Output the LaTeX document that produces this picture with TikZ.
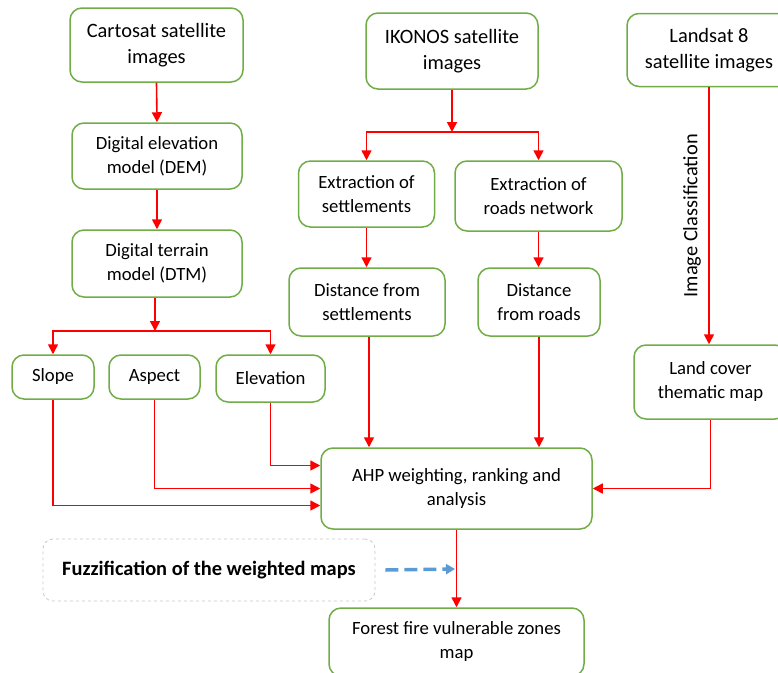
\documentclass[tikz,border=0pt]{standalone}
\usepackage{fontspec}
\setmainfont{Carlito}
\usetikzlibrary{arrows.meta,calc}
\definecolor{boxgreen}{HTML}{70AD47}
\definecolor{arrred}{HTML}{FF0000}
\definecolor{dashblue}{HTML}{5B9BD5}
\definecolor{fuzzgray}{HTML}{C8C8C8}
\begin{document}
\begin{tikzpicture}[x=1pt,y=-1pt,
  box/.style={draw=boxgreen,line width=1.5pt,rounded corners=12pt,align=center,
    inner sep=0pt,font=\fontsize{18.7}{24}\selectfont,fill=white},
  bigtext/.style={font=\fontsize{20.4}{25.5}\selectfont},
  arr/.style={draw=arrred,line width=1.6pt,-{Triangle[length=10pt,width=10pt]}},
  line/.style={draw=arrred,line width=1.6pt}]
\useasboundingbox (0,0) rectangle (778,672);
\clip (0,0) rectangle (778,672);
% nodes
\node[box,bigtext,minimum width=173pt,minimum height=74pt] (cart) at (156.5,45) {Cartosat satellite\\images};
\node[box,minimum width=170pt,minimum height=66pt] (dem) at (157,156) {Digital elevation\\model (DEM)};
\node[box,minimum width=170pt,minimum height=67pt] (dtm) at (157,263.5) {Digital terrain\\model (DTM)};
\node[box,minimum width=82pt,minimum height=44pt] (slope) at (53,377) {Slope};
\node[box,minimum width=91pt,minimum height=44pt] (aspect) at (154.5,377) {Aspect};
\node[box,minimum width=109pt,minimum height=47pt] (elev) at (270.5,378.5) {Elevation};
\node[box,bigtext,minimum width=172pt,minimum height=76pt] (ikonos) at (452,51) {IKONOS satellite\\images};
\node[box,minimum width=136pt,minimum height=66pt] (exset) at (366.5,194) {Extraction of\\settlements};
\node[box,minimum width=167pt,minimum height=70pt] (exroad) at (538.5,196) {Extraction of\\roads network};
\node[box,minimum width=156pt,minimum height=68pt] (dset) at (367,302) {Distance from\\settlements};
\node[box,minimum width=122pt,minimum height=68pt] (droad) at (539,302) {Distance\\from roads};
\node[box,bigtext,minimum width=164pt,minimum height=73pt] (landsat) at (709,50) {Landsat 8\\satellite images};
\node[box,minimum width=153pt,minimum height=74pt] (landcover) at (710.5,382) {Land cover\\thematic map};
\node[box,minimum width=271pt,minimum height=81pt] (ahp) at (456.5,488.5) {AHP weighting, ranking and\\analysis};
\node[draw=fuzzgray,dashed,line width=0.8pt,rounded corners=10pt,minimum width=332pt,minimum height=62pt,
  font=\fontsize{20.4}{25.5}\selectfont\bfseries] (fuzzy) at (209,570) {Fuzzification of the weighted maps};
\node[box,minimum width=255pt,minimum height=68pt] (forest) at (456.5,642) {Forest fire vulnerable zones\\map};
% split points
\coordinate (sp1) at (155,331);
\coordinate (sp2) at (452,132);
\coordinate (fz) at (455,569);
% connectors
\draw[arr] (cart.south) -- (dem.north);
\draw[arr] (dem.south) -- (dtm.north);
\draw[arr] (dtm.south -| sp1) -- (sp1);
\draw[arr] (sp1) -| (slope.north);
\draw[arr] (sp1) -| (elev.north);
\draw[arr] (slope.south) |- ([yshift=-17pt]ahp.west);
\draw[arr] (aspect.south) |- ([yshift=0pt]ahp.west);
\draw[arr] (elev.south) |- ([yshift=23pt]ahp.west);
\draw[arr] (ikonos.south) -- (sp2);
\draw[arr] (sp2) -| (exset.north);
\draw[arr] (sp2) -| (exroad.north);
\draw[arr] (exset.south) -- (dset.north -| exset.south);
\draw[arr] (exroad.south) -- (droad.north -| exroad.south);
\draw[arr] ([xshift=2pt]dset.south) -- ([xshift=2pt]dset.south |- ahp.north);
\draw[arr] (droad.south) -- (droad.south |- ahp.north);
\draw[arr] (landsat.south) -- (landsat.south |- landcover.north)
  node[midway,left=4pt,rotate=90,anchor=south,font=\fontsize{20.4}{25.5}\selectfont] (iclab) {Image Classification};
\draw[arr] (landcover.south) |- (ahp.east);
\draw[arr] (ahp.south) -- (forest.north);
\draw[draw=dashblue,line width=3.5pt,dash pattern=on 13pt off 6pt,-{Triangle[length=9pt,width=10pt]}]
  ([xshift=10pt]fuzzy.east) -- (fz);
\end{tikzpicture}
\end{document}
